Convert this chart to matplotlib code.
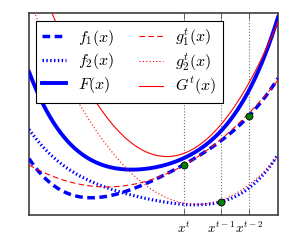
import numpy as np
import matplotlib
matplotlib.use("Agg")
import matplotlib.pyplot as plt
from numpy.polynomial import Polynomial

plt.rcParams['mathtext.fontset'] = 'cm'

# ---- data (arbitrary units) ----
f1_x = [1, 26, 46, 63, 84, 109, 121, 141, 156, 173, 191, 211, 220, 244, 249]
f1_y = [55, 28, 20, 17, 20, 28, 33, 43, 51, 62, 73, 90, 99, 130, 136]

f2_x = [1, 16, 36, 63, 86, 106, 121, 141, 161, 178, 192, 211, 231, 248]
f2_y = [85, 65, 48, 33, 25, 20, 16, 12, 9, 10, 13, 22, 38, 58]

F_x = [1, 21, 36, 56, 76, 93, 111, 131, 156, 178, 191, 204, 221, 234, 249]
F_y = [142, 97, 75, 58, 50, 47, 48, 50, 55, 68, 82, 98, 128, 162, 193]

g1_x = [1, 23, 46, 69, 86, 106, 121, 156, 191, 220, 249]
g1_y = [50, 38, 32, 28, 28, 32, 35, 52, 74, 99, 137]

g2_x = [6, 49, 61, 79, 96, 114, 131, 148, 168, 191, 248]
g2_y = [200, 115, 93, 68, 48, 32, 22, 13, 10, 13, 58]

iter_x = [155, 192, 220]          # x^t, x^{t-1}, x^{t-2}
iter_labels = ['$x^t$', '$x^{t-1}$', '$x^{t-2}$']

xlim = (0, 249)
ylim = (0, 202)

# ---- smooth curves through the read points ----
p_f1 = Polynomial.fit(f1_x, f1_y, 4)
p_f2 = Polynomial.fit(f2_x, f2_y, 4)
p_F = Polynomial.fit(F_x, F_y, 4)
p_g1 = Polynomial.fit(g1_x, g1_y, 2)
p_g2 = Polynomial.fit(g2_x, g2_y, 2)

xs = np.linspace(xlim[0], xlim[1], 500)

fig = plt.figure(figsize=(2.91, 2.47), dpi=100)
ax = fig.add_axes([29/291, 32/247, 249/291, 202/247])

for xv in iter_x:
    ax.axvline(xv, color='0.45', ls=':', lw=0.8, zorder=1)

h_f1, = ax.plot(xs, p_f1(xs), color='blue', lw=2.5, dashes=(2.2, 1.3), label='$f_1(x)$', zorder=3)
h_f2, = ax.plot(xs, p_f2(xs), color='blue', lw=2.3, dashes=(0.45, 0.75), label='$f_2(x)$', zorder=3)
h_F, = ax.plot(xs, p_F(xs), color='blue', lw=2.8, label='$F(x)$', zorder=3)
h_g1, = ax.plot(xs, p_g1(xs), color='red', lw=0.8, dashes=(5, 3), label='$g_1^t(x)$', zorder=4)
h_g2, = ax.plot(xs, p_g2(xs), color='red', lw=0.8, dashes=(1, 2), label='$g_2^t(x)$', zorder=4)
h_G, = ax.plot(xs, p_g1(xs) + p_g2(xs), color='red', lw=0.8, label='$G^t(x)$', zorder=4)

dot_y = [p_f1(iter_x[0]), p_f2(iter_x[1]), p_f1(iter_x[2])]
ax.plot(iter_x, dot_y, 'o', color='green', mec='black', mew=0.6, ms=5, zorder=5)

ax.set_xlim(*xlim)
ax.set_ylim(*ylim)
ax.set_xticks(iter_x)
ax.set_xticklabels(iter_labels)
ax.set_yticks([])
ax.tick_params(axis='x', direction='in', top=True, length=4, width=0.6,
               labelsize=9.5, pad=4, color='0.3')
for s in ax.spines.values():
    s.set_linewidth(1.2)
    s.set_color('0.25')

leg = ax.legend(handles=[h_f1, h_f2, h_F, h_g1, h_g2, h_G], ncol=2,
                loc='upper left', bbox_to_anchor=(0.028, 0.96), borderaxespad=0,
                prop={'size': 11.5}, fancybox=False, framealpha=1, edgecolor='black',
                handlelength=1.5, handletextpad=0.8, columnspacing=1.5,
                labelspacing=0.22, borderpad=0.35)
leg.get_frame().set_linewidth(0.8)
leg.set_zorder(6)

fig.savefig('out.png', dpi=100)
